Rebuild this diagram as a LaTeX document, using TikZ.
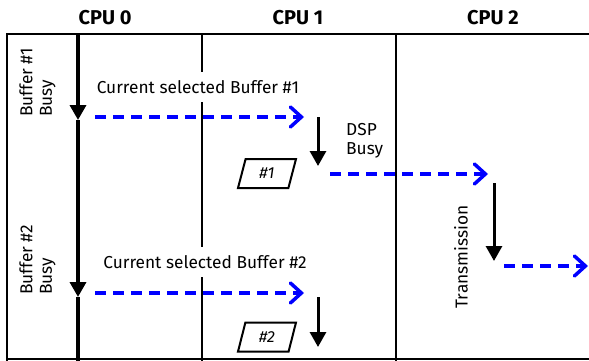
\documentclass[tikz,border=0pt]{standalone}
\usepackage{fontspec}
\setmainfont{Fira Sans}
\usetikzlibrary{arrows.meta,shapes.geometric}
\definecolor{arrblue}{RGB}{0,0,255}
\tikzset{
  frame/.style={line width=2pt,black},
  thickv/.style={line width=3.5pt,black},
  blk/.style={line width=3pt,black,-{Triangle[width=16pt,length=15pt]}},
  blu/.style={line width=3.5pt,arrblue,dash pattern=on 11pt off 7pt,-{Straight Barb[length=11pt,width=20pt,line cap=round]}},
  hdr/.style={font=\fontsize{20}{23}\selectfont\bfseries},
  lbl/.style={font=\fontsize{17.3}{19.5}\selectfont},
  para/.style={draw,line width=2pt,trapezium,trapezium left angle=76,trapezium right angle=104,trapezium stretches=true,minimum width=58pt,minimum height=29pt,inner sep=0pt,font=\fontsize{16}{18}\selectfont\itshape},
}
\begin{document}
\begin{tikzpicture}[x=1pt,y=-1pt]
\useasboundingbox (0,0) rectangle (589,361);
% headers
\node[hdr] (cpu0) at (105,18) {CPU 0};
\node[hdr] (cpu1) at (298,18) {CPU 1};
\node[hdr] (cpu2) at (493,18) {CPU 2};
% frame
\coordinate (fbl) at (7,361);
\coordinate (ftl) at (7,34);
\coordinate (ftr) at (589,34);
\coordinate (fbl2) at (7,359);
\coordinate (fbr) at (589,359);
\draw[frame] (fbl) -- (ftl) -- (ftr);
\draw[frame] (fbl2) -- (fbr);
% column separators
\coordinate (s1t) at (202,34);
\coordinate (s1b) at (202,361);
\coordinate (s2t) at (396,34);
\coordinate (s2b) at (396,361);
\draw[frame] (s1t) -- (s1b);
\draw[frame] (s2t) -- (s2b);
% CPU0 timeline
\coordinate (t0) at (78,34);
\coordinate (t1) at (78,120);
\coordinate (t2) at (78,297);
\coordinate (t3) at (78,361);
\draw[thickv] (t2) -- (t3);
\draw[blk,line width=3.5pt] (t0) -- (t1);
\draw[blk,line width=3.5pt] (t1) -- (t2);
% labels with white background
\node[lbl,fill=white,minimum height=30pt,inner xsep=1pt] (lab1) at (198,87) {Current selected Buffer \#1};
\node[lbl,fill=white,minimum height=30pt,inner xsep=1pt] (lab2) at (205,262) {Current selected Buffer \#2};
\node[lbl,rotate=90,anchor=west,align=left,inner sep=0pt] (buf1) at (37.5,117) {Buffer \#1\\Busy};
\node[lbl,rotate=90,anchor=west,align=left,inner sep=0pt] (buf2) at (37.5,295) {Buffer \#2\\Busy};
\node[lbl,anchor=north west,align=left,inner sep=0pt] (dsp) at (346,123) {DSP\\Busy};
\node[lbl,rotate=90,inner sep=0pt] (trans) at (461,257) {Transmission};
% parallelograms
\node[para] (p1) at (267,173.5) {\#1};
\node[para] (p2) at (267,337) {\#2};
% blue arrows
\coordinate (b1s) at (95,117);  \coordinate (b1e) at (304,117);
\coordinate (b2s) at (330,174); \coordinate (b2e) at (488,174);
\coordinate (b3s) at (504,266); \coordinate (b3e) at (588,266);
\coordinate (b4s) at (95,293);  \coordinate (b4e) at (304,293);
\draw[blu] (b1s) -- (b1e);
\draw[blu] (b2s) -- (b2e);
\draw[blu] (b3s) -- (b3e);
\draw[blu] (b4s) -- (b4e);
% black arrows
\coordinate (k1s) at (318,117); \coordinate (k1e) at (318,166);
\coordinate (k2s) at (494,183); \coordinate (k2e) at (494,261);
\coordinate (k3s) at (318,297); \coordinate (k3e) at (318,347);
\draw[blk] (k1s) -- (k1e);
\draw[blk] (k2s) -- (k2e);
\draw[blk] (k3s) -- (k3e);
\end{tikzpicture}
\end{document}
